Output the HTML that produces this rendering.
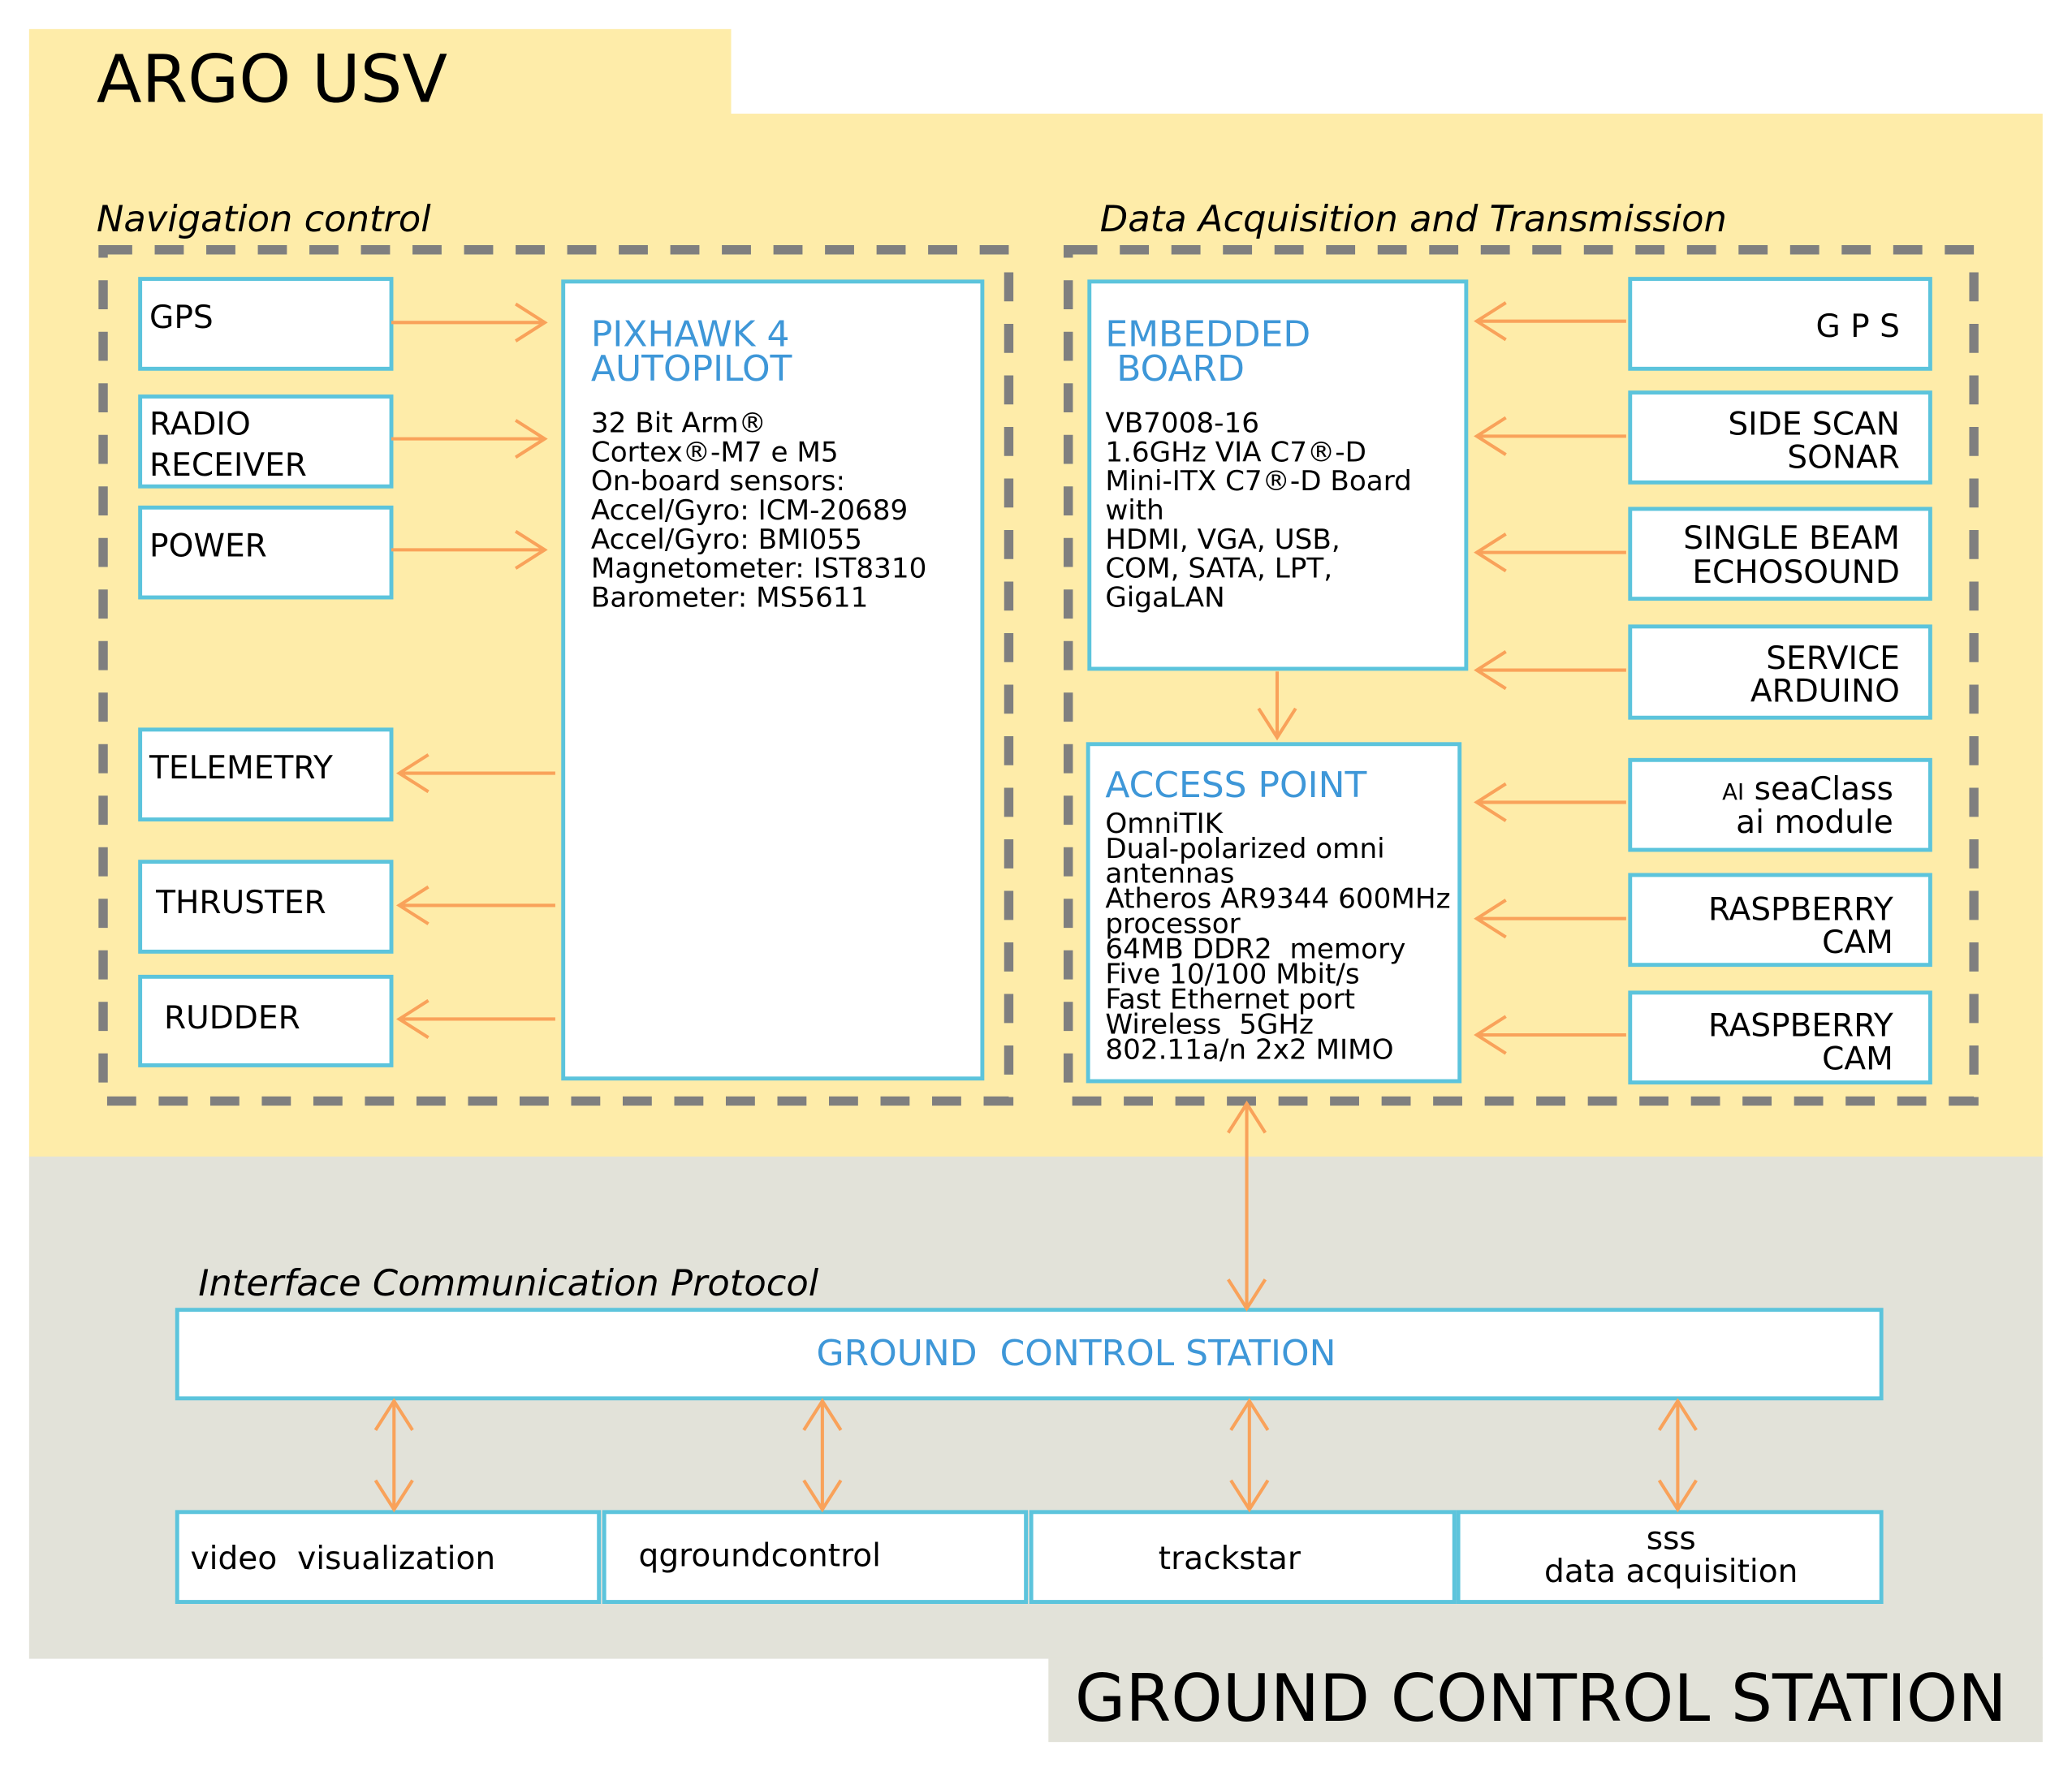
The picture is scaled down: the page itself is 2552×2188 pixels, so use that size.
<!DOCTYPE html>
<html><head><meta charset="utf-8"><style>html,body{margin:0;padding:0;background:#fff}svg{display:block}</style></head>
<body>
<svg width="2552" height="2188" viewBox="0 0 1567.2 1343.7" xmlns="http://www.w3.org/2000/svg" font-family="'DejaVu Sans','Liberation Sans',sans-serif">
<rect x="0" y="0" width="1567.2" height="1343.7" fill="#fff"/>
<rect x="22" y="22" width="531" height="66" fill="#feeca9"/>
<rect x="22" y="86" width="1523" height="790" fill="#feeca9"/>
<rect x="22" y="875" width="1523" height="380" fill="#e2e2d9"/>
<rect x="793" y="1254" width="752" height="64" fill="#e2e2d9"/>
<text x="73" y="77" font-size="50" fill="#000">ARGO USV</text>
<text x="813" y="1302" font-size="49.5" fill="#000">GROUND CONTROL STATION</text>
<g font-style="italic" font-size="27.5" fill="#000">
<text x="73" y="175">Navigation control</text>
<text x="832" y="175">Data Acquisition and Transmission</text>
<text x="150" y="980">Interface Communication Protocol</text>
</g>
<g fill="none" stroke="#7f7f7f" stroke-width="7" stroke-dasharray="22,17">
<rect x="78" y="189" width="685" height="644"/>
<rect x="808" y="189" width="685" height="644"/>
</g>
<g fill="#fff" stroke="#5cc4dc" stroke-width="3">
<rect x="106" y="211" width="190" height="68"/>
<rect x="106" y="300" width="190" height="68"/>
<rect x="106" y="384" width="190" height="68"/>
<rect x="106" y="552" width="190" height="68"/>
<rect x="106" y="652" width="190" height="68"/>
<rect x="106" y="739" width="190" height="67"/>
<rect x="426" y="213" width="317" height="603"/>
<rect x="824" y="213" width="285" height="293"/>
<rect x="823" y="563" width="281" height="255"/>
<rect x="1233" y="211" width="227" height="68"/>
<rect x="1233" y="297" width="227" height="68"/>
<rect x="1233" y="385" width="227" height="68"/>
<rect x="1233" y="474" width="227" height="69"/>
<rect x="1233" y="575" width="227" height="68"/>
<rect x="1233" y="662" width="227" height="68"/>
<rect x="1233" y="751" width="227" height="68"/>
<rect x="134" y="991" width="1289" height="67"/>
<rect x="134" y="1144" width="319" height="68"/>
<rect x="457" y="1144" width="319" height="68"/>
<rect x="780" y="1144" width="320" height="68"/>
<rect x="1103" y="1144" width="320" height="68"/>
</g>
<g fill="none" stroke="#f9a25a" stroke-width="2.5">
<path d="M296 244H412M390 230L412 244L390 258"/>
<path d="M296 332H412M390 318L412 332L390 346"/>
<path d="M296 416H412M390 402L412 416L390 430"/>
<path d="M420 585H302M324 571L302 585L324 599"/>
<path d="M420 685H302M324 671L302 685L324 699"/>
<path d="M420 771H302M324 757L302 771L324 785"/>
<path d="M1230 243H1117M1139 229L1117 243L1139 257"/>
<path d="M1230 330H1117M1139 316L1117 330L1139 344"/>
<path d="M1230 418H1117M1139 404L1117 418L1139 432"/>
<path d="M1230 507H1117M1139 493L1117 507L1139 521"/>
<path d="M1230 607H1117M1139 593L1117 607L1139 621"/>
<path d="M1230 695H1117M1139 681L1117 695L1139 709"/>
<path d="M1230 783H1117M1139 769L1117 783L1139 797"/>
<path d="M966 508V558M952 536L966 558L980 536"/>
<path d="M943 835V990M929 857L943 835L957 857M929 968L943 990L957 968"/>
<path d="M298 1060V1142M284 1082L298 1060L312 1082M284 1120L298 1142L312 1120"/>
<path d="M622 1060V1142M608 1082L622 1060L636 1082M608 1120L622 1142L636 1120"/>
<path d="M945 1060V1142M931 1082L945 1060L959 1082M931 1120L945 1142L959 1120"/>
<path d="M1269 1060V1142M1255 1082L1269 1060L1283 1082M1255 1120L1269 1142L1283 1120"/>
</g>
<g font-size="24" fill="#000">
<text x="113" y="248">GPS</text>
<text x="113" y="329">RADIO</text>
<text x="113" y="360">RECEIVER</text>
<text x="113" y="421">POWER</text>
<text x="113" y="589">TELEMETRY</text>
<text x="118" y="691">THRUSTER</text>
<text x="124" y="778">RUDDER</text>
</g>
<g font-size="24" fill="#000" text-anchor="end">
<text x="1437" y="255">G P S</text>
<text x="1437" y="329">SIDE SCAN</text>
<text x="1437" y="354">SONAR</text>
<text x="1437" y="415">SINGLE BEAM</text>
<text x="1437" y="441">ECHOSOUND</text>
<text x="1437" y="506">SERVICE</text>
<text x="1437" y="531">ARDUINO</text>
<text x="1432" y="605"><tspan font-size="17">AI</tspan> seaClass</text>
<text x="1432" y="630">ai module</text>
<text x="1432" y="696">RASPBERRY</text>
<text x="1432" y="721">CAM</text>
<text x="1432" y="784">RASPBERRY</text>
<text x="1432" y="809">CAM</text>
</g>
<g font-size="27" fill="#3e97d8">
<text x="447" y="262">PIXHAWK 4</text>
<text x="447" y="288">AUTOPILOT</text>
<text x="836" y="262">EMBEDDED</text>
<text x="836" y="288" xml:space="preserve"> BOARD</text>
<text x="836" y="603">ACCESS POINT</text>
<text x="814" y="1033" text-anchor="middle" xml:space="preserve">GROUND  CONTROL STATION</text>
</g>
<g font-size="21" fill="#000">
<text x="447" y="327">32 Bit Arm®</text>
<text x="447" y="349">Cortex®-M7 e M5</text>
<text x="447" y="371">On-board sensors:</text>
<text x="447" y="393">Accel/Gyro: ICM-20689</text>
<text x="447" y="415">Accel/Gyro: BMI055</text>
<text x="447" y="437">Magnetometer: IST8310</text>
<text x="447" y="459">Barometer: MS5611</text>
<text x="836" y="327">VB7008-16</text>
<text x="836" y="349">1.6GHz VIA C7®-D</text>
<text x="836" y="371">Mini-ITX C7®-D Board</text>
<text x="836" y="393">with</text>
<text x="836" y="415">HDMI, VGA, USB,</text>
<text x="836" y="437">COM, SATA, LPT,</text>
<text x="836" y="459">GigaLAN</text>
<text x="836" y="630">OmniTIK</text>
<text x="836" y="649">Dual-polarized omni</text>
<text x="836" y="668">antennas</text>
<text x="836" y="687">Atheros AR9344 600MHz</text>
<text x="836" y="706">processor</text>
<text x="836" y="725" xml:space="preserve">64MB DDR2  memory</text>
<text x="836" y="744">Five 10/100 Mbit/s</text>
<text x="836" y="763">Fast Ethernet port</text>
<text x="836" y="782" xml:space="preserve">Wireless  5GHz</text>
<text x="836" y="801">802.11a/n 2x2 MIMO</text>
</g>
<g font-size="24" fill="#000">
<text x="144" y="1187" xml:space="preserve">video  visualization</text>
<text x="483" y="1185">qgroundcontrol</text>
<text x="930" y="1187" text-anchor="middle">trackstar</text>
<text x="1264" y="1172" text-anchor="middle">sss</text>
<text x="1264" y="1197" text-anchor="middle">data acquisition</text>
</g>
</svg>
</body></html>
